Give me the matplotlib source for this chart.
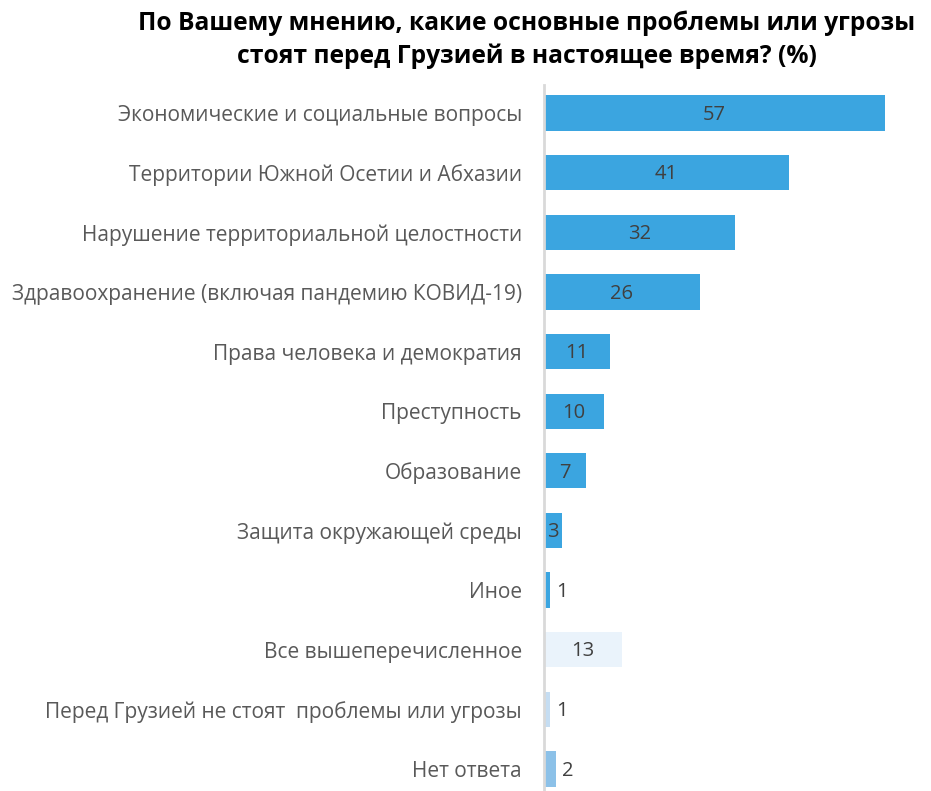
import matplotlib
matplotlib.use("Agg")
import matplotlib.pyplot as plt

categories = [
    "Экономические и социальные вопросы",
    "Территории Южной Осетии и Абхазии",
    "Нарушение территориальной целостности",
    "Здравоохранение (включая пандемию КОВИД-19)",
    "Права человека и демократия",
    "Преступность",
    "Образование",
    "Защита окружающей среды",
    "Иное",
    "Все вышеперечисленное",
    "Перед Грузией не стоят  проблемы или угрозы",
    "Нет ответа",
]
values = [57, 41, 32, 26, 11, 10, 7, 3, 1, 13, 1, 2]
colors = ["#3BA5E0"] * 9 + ["#EAF3FB", "#C5DDF2", "#8CC1E8"]
title = "По Вашему мнению, какие основные проблемы или угрозы\nстоят перед Грузией в настоящее время? (%)"

plt.rcParams['font.family'] = ['Open Sans', 'DejaVu Sans']

W, H = 931, 791
fig = plt.figure(figsize=(W / 100, H / 100), dpi=100)
ax = fig.add_axes([544 / W, 0, (885 - 544) / W, 1 - 85 / H])

pos = list(range(len(categories)))
ax.barh(pos, values, height=0.59, color=colors, zorder=2)
ax.set_xlim(0, 57)
ax.set_ylim(11.37, -0.47)

for p, v in zip(pos, values):
    if v >= 3:
        ax.text(v / 2, p + 0.03, str(v), ha="center", va="center", fontsize=14.5, color="#404040")
    else:
        ax.text(v + 1.0, p + 0.03, str(v), ha="left", va="center", fontsize=14.5, color="#404040")

ax.set_yticks(pos)
ax.set_yticklabels(categories, fontsize=15, color="#595959")
ax.tick_params(axis="y", length=0, pad=16)
ax.set_xticks([])
for s in ["top", "right", "bottom"]:
    ax.spines[s].set_visible(False)
ax.spines["left"].set_color("#D9D9D9")
ax.spines["left"].set_linewidth(2)

fig.text(527 / W, 1 - 40 / H, title, ha="center", va="center", fontsize=17.7,
         fontweight="bold", color="#000000", linespacing=1.38)

fig.savefig("out.png", dpi=100)
